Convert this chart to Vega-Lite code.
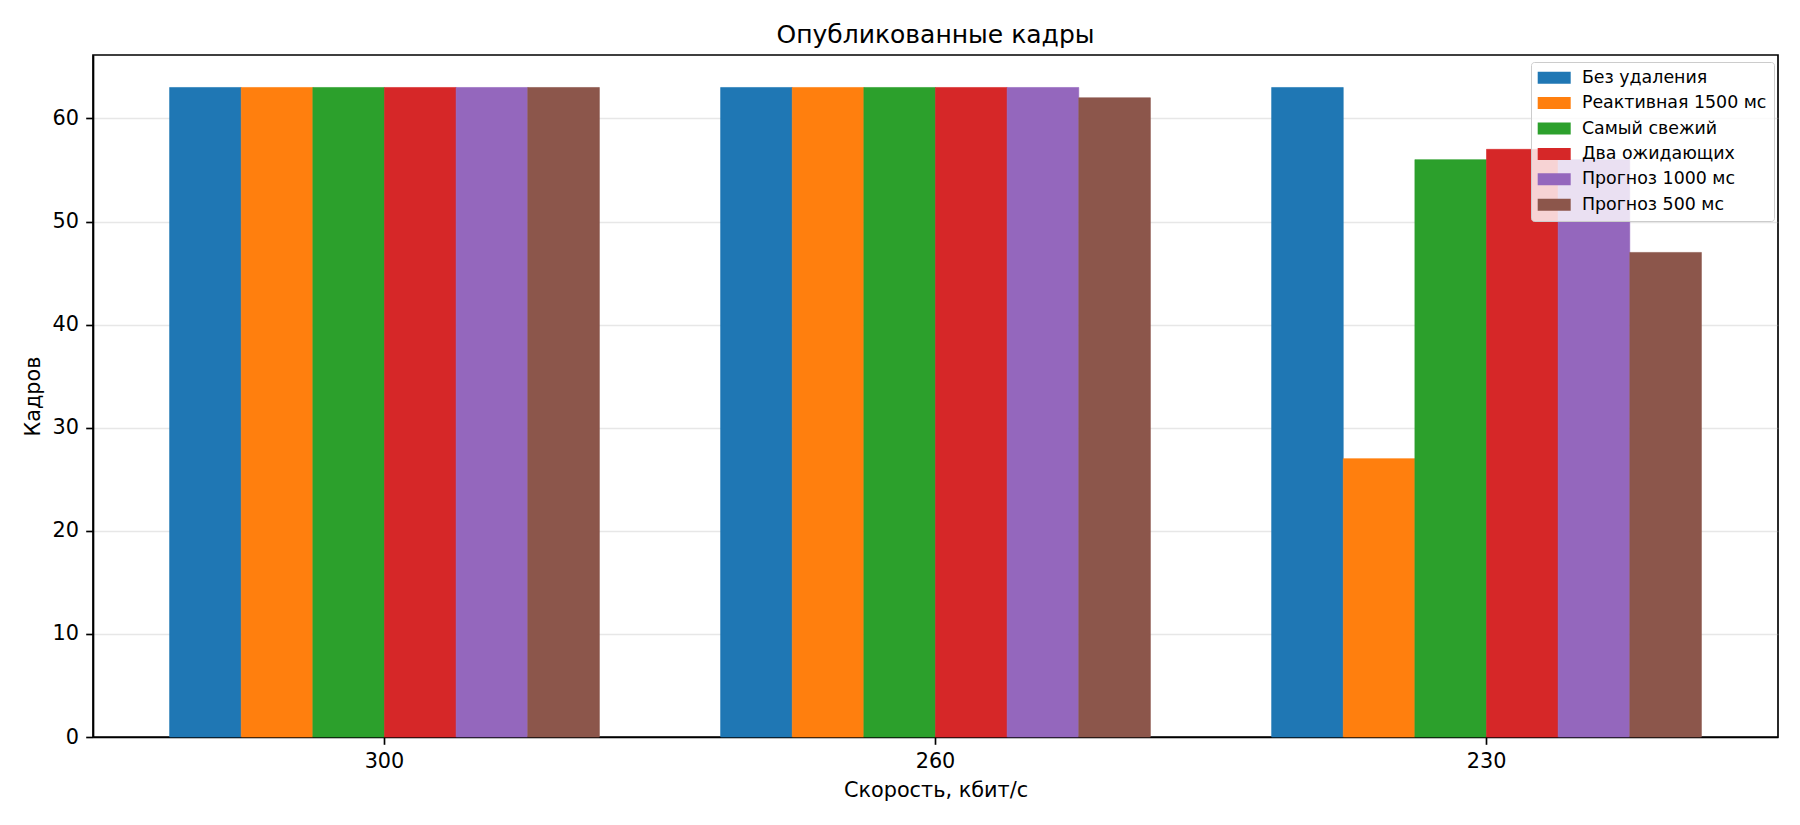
{
  "$schema": "https://vega.github.io/schema/vega-lite/v6.json",
  "description": "Grouped bar chart: published frames per bitrate and method.",
  "width": 1685,
  "height": 682,
  "autosize": {"type": "none"},
  "padding": {"left": 93, "top": 55, "right": 22, "bottom": 88},
  "background": "white",
  "title": {
    "text": "Опубликованные кадры",
    "font": "DejaVu Sans",
    "fontSize": 25,
    "fontWeight": "normal",
    "color": "black",
    "anchor": "middle",
    "baseline": "bottom",
    "offset": 7,
    "dy": 25
  },
  "data": {
    "values": [
      {"speed": "300", "method": "Без удаления", "frames": 63},
      {"speed": "300", "method": "Реактивная 1500 мс", "frames": 63},
      {"speed": "300", "method": "Самый свежий", "frames": 63},
      {"speed": "300", "method": "Два ожидающих", "frames": 63},
      {"speed": "300", "method": "Прогноз 1000 мс", "frames": 63},
      {"speed": "300", "method": "Прогноз 500 мс", "frames": 63},
      {"speed": "260", "method": "Без удаления", "frames": 63},
      {"speed": "260", "method": "Реактивная 1500 мс", "frames": 63},
      {"speed": "260", "method": "Самый свежий", "frames": 63},
      {"speed": "260", "method": "Два ожидающих", "frames": 63},
      {"speed": "260", "method": "Прогноз 1000 мс", "frames": 63},
      {"speed": "260", "method": "Прогноз 500 мс", "frames": 62},
      {"speed": "230", "method": "Без удаления", "frames": 63},
      {"speed": "230", "method": "Реактивная 1500 мс", "frames": 27},
      {"speed": "230", "method": "Самый свежий", "frames": 56},
      {"speed": "230", "method": "Два ожидающих", "frames": 57},
      {"speed": "230", "method": "Прогноз 1000 мс", "frames": 56},
      {"speed": "230", "method": "Прогноз 500 мс", "frames": 47}
    ]
  },
  "mark": {"type": "bar", "strokeWidth": 0.6},
  "encoding": {
    "x": {
      "field": "speed",
      "type": "nominal",
      "sort": ["300", "260", "230"],
      "title": "Скорость, кбит/с",
      "scale": {"paddingInner": 0.22, "paddingOuter": 0.139},
      "axis": {"labelAngle": 0, "grid": false, "titlePadding": 9}
    },
    "xOffset": {
      "field": "method",
      "type": "nominal",
      "sort": ["Без удаления", "Реактивная 1500 мс", "Самый свежий", "Два ожидающих", "Прогноз 1000 мс", "Прогноз 500 мс"],
      "scale": {"paddingInner": 0, "paddingOuter": 0}
    },
    "y": {
      "field": "frames",
      "type": "quantitative",
      "title": "Кадров",
      "scale": {"domain": [0, 66.15], "nice": false},
      "axis": {
        "values": [0, 10, 20, 30, 40, 50, 60],
        "grid": true,
        "gridColor": "#b0b0b0",
        "gridOpacity": 0.3,
        "gridWidth": 1.67,
        "titlePadding": 8
      }
    },
    "stroke": {
      "field": "method",
      "type": "nominal",
      "sort": ["Без удаления", "Реактивная 1500 мс", "Самый свежий", "Два ожидающих", "Прогноз 1000 мс", "Прогноз 500 мс"],
      "scale": {"range": ["#1f77b4", "#ff7f0e", "#2ca02c", "#d62728", "#9467bd", "#8c564b"]},
      "legend": null
    },
    "color": {
      "field": "method",
      "type": "nominal",
      "sort": ["Без удаления", "Реактивная 1500 мс", "Самый свежий", "Два ожидающих", "Прогноз 1000 мс", "Прогноз 500 мс"],
      "scale": {"range": ["#1f77b4", "#ff7f0e", "#2ca02c", "#d62728", "#9467bd", "#8c564b"]},
      "legend": {
        "title": null,
        "orient": "none",
        "legendX": 1438,
        "legendY": 7,
        "padding": 7,
        "fillColor": "rgba(255,255,255,0.8)",
        "strokeColor": "#cccccc",
        "cornerRadius": 3,
        "symbolType": "M-2.75,-1H2.75V1H-2.75Z",
        "symbolSize": 144,
        "symbolStrokeWidth": 0,
        "symbolOpacity": 1,
        "symbolOffset": 7.5,
        "labelOffset": 19,
        "labelLimit": 400,
        "labelFont": "DejaVu Sans",
        "labelFontSize": 17.4,
        "labelColor": "black",
        "rowPadding": 6.4,
        "zindex": 2
      }
    }
  },
  "config": {
    "view": {"stroke": "black", "strokeWidth": 1.67},
    "axis": {
      "zindex": 1,
      "labelFont": "DejaVu Sans",
      "labelFontSize": 20.8,
      "labelColor": "black",
      "labelPadding": 7.3,
      "tickColor": "black",
      "tickWidth": 1.67,
      "tickSize": 7.3,
      "domainColor": "black",
      "domainWidth": 1.67,
      "titleFont": "DejaVu Sans",
      "titleFontSize": 20.8,
      "titleFontWeight": "normal",
      "titleColor": "black"
    }
  }
}
